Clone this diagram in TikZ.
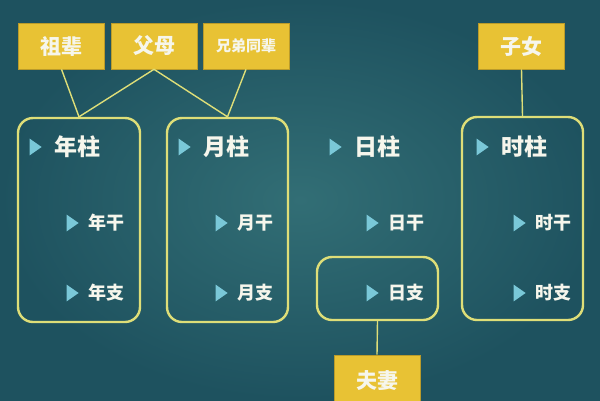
\documentclass[tikz,border=0pt]{standalone}
\usepackage{fontspec}
\usepackage{tikz}
\usetikzlibrary{shapes.geometric}
\usetikzlibrary{positioning}
\newfontfamily\cjk{Noto Sans CJK SC}
\definecolor{bgdark}{RGB}{30, 82, 95}
\definecolor{bglight}{RGB}{50, 110, 117}
\definecolor{mgold}{RGB}{232, 194, 52}
\definecolor{mline}{RGB}{222, 222, 120}
\definecolor{mcyan}{RGB}{122, 200, 216}
\definecolor{mwhite}{RGB}{246, 246, 236}
\tikzset{tag/.style = {fill=mgold, draw=mgold!80!black, line width=0.6, inner sep=0,
                       minimum width=86, minimum height=46, text=mwhite,
                       font=\cjk\bfseries\fontsize{21}{21}\selectfont}}
\tikzset{pillar/.style = {draw=mline, line width=2.4, rounded corners=15, inner sep=0}}
\tikzset{tri/.style = {isosceles triangle, isosceles triangle apex angle=70, fill=mcyan,
                       inner sep=0, minimum width=14, minimum height=12}}
\tikzset{head/.style = {anchor=west, text=mwhite, inner sep=0, font=\cjk\bfseries\fontsize{23}{23}\selectfont}}
\tikzset{sub/.style = {anchor=west, text=mwhite, inner sep=0, font=\cjk\bfseries\fontsize{18}{18}\selectfont}}
\tikzset{link/.style = {draw=mline, line width=1.4}}

\begin{document}
\begin{tikzpicture}[x=1pt, y=-1pt]
    \useasboundingbox (0, 0) rectangle (600, 400);
    \clip (0, 0) rectangle (600, 400);
    \shade [inner color=bglight, outer color=bgdark] (0, 0) rectangle (600, 400);

    % top tags
    \node [tag] (zubei) at (61.5, 46) {祖辈};
    \node [tag] (fumu) at (154, 46) {父母};
    \node [tag, font=\cjk\bfseries\fontsize{15}{15}\selectfont] (xiongdi) at (246, 46) {兄弟同辈};
    \node [tag] (zinv) at (521.5, 46) {子女};
    \node [tag, minimum height=52] (fuqi) at (377, 381) {夫妻};

    % pillar frames
    \node [pillar, minimum width=122, minimum height=204] (nian) at (79, 220) {};
    \node [pillar, minimum width=121, minimum height=204] (yue) at (227.5, 220) {};
    \node [pillar, minimum width=121, minimum height=203] (shi) at (522.5, 218.5) {};
    \node [pillar, minimum width=121, minimum height=63] (rizhi) at (377.5, 288.5) {};

    % labels
    \foreach \c/\p/\n in {18/年/nian, 167/月/yue, 318/日/ri, 465/时/shi} {
      \node [tri] at (\c + 16, 147) {};
      \node [head] (\n-zhu) at (\c + 36, 147) {\p 柱};
      \node [tri] at (\c + 53, 223) {};
      \node [sub] (\n-gan) at (\c + 70, 223) {\p 干};
      \node [tri] at (\c + 53, 293) {};
      \node [sub] (\n-zhi) at (\c + 70, 293) {\p 支};
    }

    % connectors
    \draw [link] (zubei.south) -- (nian.north);
    \draw [link] (fumu.south) -- (nian.north);
    \draw [link] (fumu.south) -- (yue.north);
    \draw [link] (xiongdi.south) -- (yue.north);
    \draw [link] (zinv.south) -- (shi.north);
    \draw [link] (rizhi.south) -- (fuqi.north);
  \end{tikzpicture}
\end{document}
